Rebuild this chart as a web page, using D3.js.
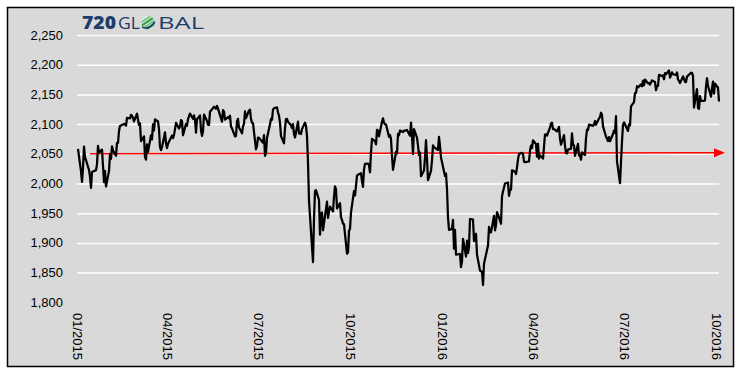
<!DOCTYPE html>
<html>
<head>
<meta charset="utf-8">
<script src="https://cdn.jsdelivr.net/npm/d3@7/dist/d3.min.js"></script>
<style>
    body { margin: 0; background: #ffffff; }
    .y-label { font-family: "Liberation Sans", Arial, sans-serif; font-size: 13px; fill: #000; }
    .x-label { font-family: "Liberation Sans", Arial, sans-serif; font-size: 13px; fill: #000; }
</style>
</head>
<body>
<div id="chart-container"></div>
<script>
/*
    S&P 500 daily close, 01/2015 - 10/2016, with flat red arrow at ~2,050
 */

// daily closes 2015, [month-day, close]
var spx_2015 = [
    ["01-02",2058.20],["01-05",2020.58],["01-06",2002.61],["01-07",2025.90],["01-08",2062.14],["01-09",2044.81],
    ["01-12",2028.26],["01-13",2023.03],["01-14",2011.27],["01-15",1992.67],["01-16",2019.42],["01-20",2022.55],
    ["01-21",2032.12],["01-22",2063.15],["01-23",2051.82],["01-26",2057.09],["01-27",2029.55],["01-28",2002.16],
    ["01-29",2021.25],["01-30",1994.99],
    ["02-02",2020.85],["02-03",2050.03],["02-04",2041.51],["02-05",2062.52],["02-06",2055.47],["02-09",2046.74],
    ["02-10",2068.59],["02-11",2068.53],["02-12",2088.48],["02-13",2096.99],["02-17",2100.34],["02-18",2099.68],
    ["02-19",2097.45],["02-20",2110.30],["02-23",2109.66],["02-24",2115.48],["02-25",2113.86],["02-26",2110.74],
    ["02-27",2104.50],
    ["03-02",2117.39],["03-03",2107.78],["03-04",2098.53],["03-05",2101.04],["03-06",2071.26],["03-09",2079.43],
    ["03-10",2044.16],["03-11",2040.24],["03-12",2065.95],["03-13",2053.40],["03-16",2081.19],["03-17",2074.28],
    ["03-18",2099.50],["03-19",2089.27],["03-20",2108.10],["03-23",2104.42],["03-24",2091.50],["03-25",2061.05],
    ["03-26",2056.15],["03-27",2061.02],["03-30",2086.24],["03-31",2067.89],
    ["04-01",2059.69],["04-02",2066.96],["04-06",2080.62],["04-07",2076.33],["04-08",2081.90],["04-09",2091.18],
    ["04-10",2102.06],["04-13",2092.43],["04-14",2095.84],["04-15",2106.63],["04-16",2104.99],["04-17",2081.18],
    ["04-20",2100.40],["04-21",2097.29],["04-22",2107.96],["04-23",2112.93],["04-24",2117.69],["04-27",2108.92],
    ["04-28",2114.76],["04-29",2106.85],["04-30",2085.51],
    ["05-01",2108.29],["05-04",2114.49],["05-05",2089.46],["05-06",2080.15],["05-07",2088.00],["05-08",2116.10],
    ["05-11",2105.33],["05-12",2099.12],["05-13",2098.48],["05-14",2121.10],["05-15",2122.73],["05-18",2129.20],
    ["05-19",2127.83],["05-20",2125.85],["05-21",2130.82],["05-22",2126.06],["05-26",2104.20],["05-27",2123.48],
    ["05-28",2120.79],["05-29",2107.39],
    ["06-01",2111.73],["06-02",2109.60],["06-03",2114.07],["06-04",2095.84],["06-05",2092.83],["06-08",2079.28],
    ["06-09",2080.15],["06-10",2105.20],["06-11",2108.86],["06-12",2094.11],["06-15",2084.43],["06-16",2096.29],
    ["06-17",2100.44],["06-18",2121.24],["06-19",2109.99],["06-22",2122.85],["06-23",2124.20],["06-24",2108.58],
    ["06-25",2102.31],["06-26",2101.49],["06-29",2057.64],["06-30",2063.11],
    ["07-01",2077.42],["07-02",2076.78],["07-06",2068.76],["07-07",2081.34],["07-08",2046.68],["07-09",2051.31],
    ["07-10",2076.62],["07-13",2099.60],["07-14",2108.95],["07-15",2107.40],["07-16",2124.29],["07-17",2126.64],
    ["07-20",2128.28],["07-21",2119.21],["07-22",2114.15],["07-23",2102.15],["07-24",2079.65],["07-27",2067.64],
    ["07-28",2093.25],["07-29",2108.57],["07-30",2108.63],["07-31",2103.84],
    ["08-03",2098.04],["08-04",2093.32],["08-05",2099.84],["08-06",2083.56],["08-07",2077.57],["08-10",2104.18],
    ["08-11",2084.07],["08-12",2086.05],["08-13",2083.39],["08-14",2091.54],["08-17",2102.44],["08-18",2096.92],
    ["08-19",2079.61],["08-20",2035.73],["08-21",1970.89],["08-24",1893.21],["08-25",1867.61],["08-26",1940.51],
    ["08-27",1987.66],["08-28",1988.87],["08-31",1972.18],
    ["09-01",1913.85],["09-02",1948.86],["09-03",1951.13],["09-04",1921.22],["09-08",1969.41],["09-09",1942.04],
    ["09-10",1952.29],["09-11",1961.05],["09-14",1953.03],["09-15",1978.09],["09-16",1995.31],["09-17",1990.20],
    ["09-18",1958.03],["09-21",1966.97],["09-22",1942.74],["09-23",1938.76],["09-24",1932.24],["09-25",1931.34],
    ["09-28",1881.77],["09-29",1884.09],["09-30",1920.03],
    ["10-01",1923.82],["10-02",1951.36],["10-05",1987.05],["10-06",1979.92],["10-07",1995.83],["10-08",2013.43],
    ["10-09",2014.89],["10-12",2017.46],["10-13",2003.69],["10-14",1994.24],["10-15",2023.86],["10-16",2033.11],
    ["10-19",2033.66],["10-20",2030.77],["10-21",2018.94],["10-22",2052.51],["10-23",2075.15],["10-26",2071.18],
    ["10-27",2065.89],["10-28",2090.35],["10-29",2089.41],["10-30",2079.36],
    ["11-02",2104.05],["11-03",2109.79],["11-04",2102.31],["11-05",2099.93],["11-06",2099.20],["11-09",2078.58],
    ["11-10",2081.72],["11-11",2075.00],["11-12",2045.97],["11-13",2023.04],["11-16",2053.19],["11-17",2050.44],
    ["11-18",2083.58],["11-19",2081.24],["11-20",2089.17],["11-23",2086.59],["11-24",2089.14],["11-25",2088.87],
    ["11-27",2090.11],["11-30",2080.41],
    ["12-01",2102.63],["12-02",2079.51],["12-03",2049.62],["12-04",2091.69],["12-07",2077.07],["12-08",2063.59],
    ["12-09",2047.62],["12-10",2052.23],["12-11",2012.37],["12-14",2021.94],["12-15",2043.41],["12-16",2073.07],
    ["12-17",2041.89],["12-18",2005.55],["12-21",2021.15],["12-22",2038.97],["12-23",2064.29],["12-24",2060.99],
    ["12-28",2056.50],["12-29",2078.36],["12-30",2063.36],["12-31",2043.94]
];

// daily closes 2016, [month-day, close]
var spx_2016 = [
    ["01-04",2012.66],["01-05",2016.71],["01-06",1990.26],["01-07",1943.09],["01-08",1922.03],["01-11",1923.67],
    ["01-12",1938.68],["01-13",1890.28],["01-14",1921.84],["01-15",1880.33],["01-19",1881.33],["01-20",1859.33],
    ["01-21",1868.99],["01-22",1906.90],["01-25",1877.08],["01-26",1903.63],["01-27",1882.95],["01-28",1893.36],
    ["01-29",1940.24],
    ["02-01",1939.38],["02-02",1903.03],["02-03",1912.53],["02-04",1915.45],["02-05",1880.05],["02-08",1853.44],
    ["02-09",1852.21],["02-10",1851.86],["02-11",1829.08],["02-12",1864.78],["02-16",1895.58],["02-17",1926.82],
    ["02-18",1917.83],["02-19",1917.78],["02-22",1945.50],["02-23",1921.27],["02-24",1929.80],["02-25",1951.70],
    ["02-26",1948.05],["02-29",1932.23],
    ["03-01",1978.35],["03-02",1986.45],["03-03",1993.40],["03-04",1999.99],["03-07",2001.76],["03-08",1979.26],
    ["03-09",1989.26],["03-10",1989.57],["03-11",2022.19],["03-14",2019.64],["03-15",2015.93],["03-16",2027.22],
    ["03-17",2040.59],["03-18",2049.58],["03-21",2051.60],["03-22",2049.80],["03-23",2036.71],["03-24",2035.94],
    ["03-28",2037.05],["03-29",2055.01],["03-30",2063.95],["03-31",2059.74],
    ["04-01",2072.78],["04-04",2066.13],["04-05",2045.17],["04-06",2066.66],["04-07",2041.91],["04-08",2047.60],
    ["04-11",2041.99],["04-12",2061.72],["04-13",2082.42],["04-14",2082.78],["04-15",2080.73],["04-18",2094.34],
    ["04-19",2100.80],["04-20",2102.40],["04-21",2091.48],["04-22",2091.58],["04-25",2087.79],["04-26",2091.70],
    ["04-27",2095.15],["04-28",2075.81],["04-29",2065.30],
    ["05-02",2081.43],["05-03",2063.37],["05-04",2051.12],["05-05",2050.63],["05-06",2057.14],["05-09",2058.69],
    ["05-10",2084.39],["05-11",2064.46],["05-12",2064.11],["05-13",2046.61],["05-16",2066.66],["05-17",2047.21],
    ["05-18",2047.63],["05-19",2040.04],["05-20",2052.32],["05-23",2048.04],["05-24",2076.06],["05-25",2090.54],
    ["05-26",2090.10],["05-27",2099.06],["05-31",2096.95],
    ["06-01",2099.33],["06-02",2105.26],["06-03",2099.13],["06-06",2109.41],["06-07",2112.13],["06-08",2119.12],
    ["06-09",2115.48],["06-10",2096.07],["06-13",2079.06],["06-14",2075.32],["06-15",2071.50],["06-16",2077.99],
    ["06-17",2071.22],["06-20",2083.25],["06-21",2088.90],["06-22",2085.45],["06-23",2113.32],["06-24",2037.41],
    ["06-27",2000.54],["06-28",2036.09],["06-29",2070.77],["06-30",2098.86],
    ["07-01",2102.95],["07-05",2088.55],["07-06",2099.73],["07-07",2097.90],["07-08",2129.90],["07-11",2137.16],
    ["07-12",2152.14],["07-13",2152.43],["07-14",2163.75],["07-15",2161.74],["07-18",2166.89],["07-19",2163.78],
    ["07-20",2173.02],["07-21",2165.17],["07-22",2175.03],["07-25",2168.48],["07-26",2169.18],["07-27",2166.58],
    ["07-28",2170.06],["07-29",2173.60],
    ["08-01",2170.84],["08-02",2157.03],["08-03",2163.79],["08-04",2164.25],["08-05",2182.87],["08-08",2180.89],
    ["08-09",2181.74],["08-10",2175.49],["08-11",2185.79],["08-12",2184.05],["08-15",2190.15],["08-16",2178.15],
    ["08-17",2182.22],["08-18",2187.02],["08-19",2183.87],["08-22",2182.64],["08-23",2186.90],["08-24",2175.44],
    ["08-25",2172.47],["08-26",2169.04],["08-29",2180.38],["08-30",2176.12],["08-31",2170.95],
    ["09-01",2170.86],["09-02",2179.98],["09-06",2186.48],["09-07",2186.16],["09-08",2181.30],["09-09",2127.81],
    ["09-12",2159.04],["09-13",2127.02],["09-14",2125.77],["09-15",2147.26],["09-16",2139.16],["09-19",2139.12],
    ["09-20",2139.76],["09-21",2163.12],["09-22",2177.18],["09-23",2164.69],["09-26",2146.10],["09-27",2159.93],
    ["09-28",2171.37],["09-29",2151.13],["09-30",2168.27],
    ["10-03",2161.20],["10-04",2138.00]
];

// red flat arrow drawn across the chart
var trend_arrow = [["2015-01-14", 2050.0], ["2016-10-10", 2051.8]];

var y_ticks = [1800, 1850, 1900, 1950, 2000, 2050, 2100, 2150, 2200, 2250];
var x_tick_labels = ["01/2015", "04/2015", "07/2015", "10/2015", "01/2016", "04/2016", "07/2016", "10/2016"];

var svg_size = {
    'width': 744,
    'height': 375
};

var chart_option = {
    'plot': {
        'left': 77,
        'right': 719,
        'top': 35,
        'bottom': 302.3
    },
    'frame': {
        'x': 7.5, 'y': 7.5, 'width': 726, 'height': 359
    }
};

var parse_day = d3.timeParse("%Y-%m-%d");
var parse_tick = d3.timeParse("%m/%Y");

var series = [];
spx_2015.forEach(function(d){ series.push({date: parse_day("2015-" + d[0]), value: d[1]}); });
spx_2016.forEach(function(d){ series.push({date: parse_day("2016-" + d[0]), value: d[1]}); });

var svg = d3.select("#chart-container")
    .append("svg")
    .attr('width', svg_size.width)
    .attr('height', svg_size.height);

// frame
svg.append('rect')
    .attr('x', chart_option.frame.x)
    .attr('y', chart_option.frame.y)
    .attr('width', chart_option.frame.width)
    .attr('height', chart_option.frame.height)
    .style('fill', '#d9d9d9')
    .style('stroke', '#000')
    .style('stroke-width', 1.5);

var x_scale = d3.scaleTime()
    .domain([parse_day("2015-01-01"), parse_day("2016-10-04")])
    .range([chart_option.plot.left, chart_option.plot.right]);

var y_scale = d3.scaleLinear()
    .domain([y_ticks[0], y_ticks[y_ticks.length-1]])
    .range([chart_option.plot.bottom, chart_option.plot.top]);

// grid
var y_axis = d3.axisLeft(y_scale)
    .tickValues(y_ticks.slice(1))
    .tickFormat("")
    .tickSizeOuter(0)
    .tickSizeInner(-(chart_option.plot.right - chart_option.plot.left));

var grid_group = svg.append('g')
    .attr('transform', 'translate(' + chart_option.plot.left + ',0)')
    .call(y_axis);
grid_group.select('.domain').remove();
grid_group.selectAll('.tick line')
    .style('stroke', '#ffffff')
    .style('stroke-width', 1.5);

// y labels
svg.append('g').selectAll('.y-label')
    .data(y_ticks)
    .enter()
    .append('text')
    .classed('y-label', true)
    .attr('x', 63)
    .attr('y', function(d){ return y_scale(d); })
    .attr('text-anchor', 'end')
    .attr('dominant-baseline', 'central')
    .text(function(d){ return d3.format(",")(d); });

// x labels, rotated
svg.append('g').selectAll('.x-label')
    .data(x_tick_labels)
    .enter()
    .append('text')
    .classed('x-label', true)
    .attr('transform', function(d){
        return 'translate(' + x_scale(parse_tick(d)) + ',313) rotate(90)';
    })
    .attr('text-anchor', 'start')
    .attr('dominant-baseline', 'central')
    .text(function(d){ return d; });

// red arrow
var arrow_start = [x_scale(parse_day(trend_arrow[0][0])), y_scale(trend_arrow[0][1])];
var arrow_tip = [x_scale(parse_day(trend_arrow[1][0])), y_scale(trend_arrow[1][1])];
var head_len = 11;

svg.append('line')
    .attr('x1', arrow_start[0])
    .attr('y1', arrow_start[1])
    .attr('x2', arrow_tip[0] - head_len + 1)
    .attr('y2', arrow_tip[1])
    .style('stroke', '#ff0000')
    .style('stroke-width', 1.5);

svg.append('path')
    .attr('d', 'M' + arrow_tip[0] + ',' + arrow_tip[1] +
        'L' + (arrow_tip[0] - head_len) + ',' + (arrow_tip[1] - 4.5) +
        'L' + (arrow_tip[0] - head_len) + ',' + (arrow_tip[1] + 4.5) + 'Z')
    .style('fill', '#ff0000');

// price line
var line = d3.line()
    .x(function(d){ return x_scale(d.date); })
    .y(function(d){ return y_scale(d.value); });

svg.append('path')
    .datum(series)
    .attr('d', line)
    .style('fill', 'none')
    .style('stroke', '#000000')
    .style('stroke-width', 2.25)
    .style('stroke-linejoin', 'round');

// logo
var logo = svg.append('g')
    .style('font-family', '"Open Sans", "Noto Sans", sans-serif')
    .style('font-size', '17px')
    .style('fill', '#1d3d6b');

logo.append('text')
    .attr('x', 82)
    .attr('y', 29)
    .attr('textLength', 34)
    .attr('lengthAdjust', 'spacingAndGlyphs')
    .style('font-weight', 800)
    .text("720");

logo.append('text')
    .attr('x', 118)
    .attr('y', 29)
    .attr('textLength', 22)
    .attr('lengthAdjust', 'spacingAndGlyphs')
    .text("GL");

logo.append('text')
    .attr('x', 158)
    .attr('y', 29)
    .attr('textLength', 46)
    .attr('lengthAdjust', 'spacingAndGlyphs')
    .text("BAL");

// globe mark
var globe = logo.append('g')
    .attr('transform', 'translate(148,22.8)');

svg.append('defs')
    .append('clipPath')
    .attr('id', 'globe-clip')
    .append('circle')
    .attr('r', 6.8);

var globe_inner = globe.append('g').attr('clip-path', 'url(#globe-clip)');
globe_inner.append('circle').attr('r', 6.8).style('fill', '#eef4ee');
[-5, -1.5, 2, 5.5].forEach(function(o, i){
    globe_inner.append('line')
        .attr('x1', -9).attr('y1', o + 6)
        .attr('x2', 9).attr('y2', o - 6)
        .style('stroke', i % 2 ? '#2f9e46' : '#7cc68a')
        .style('stroke-width', 2.2);
});
globe.append('path')
    .attr('d', 'M-6,4 Q0,8 7,-1')
    .style('fill', 'none')
    .style('stroke', '#1d3d6b')
    .style('stroke-width', 1.6);
</script>
</body>
</html>
